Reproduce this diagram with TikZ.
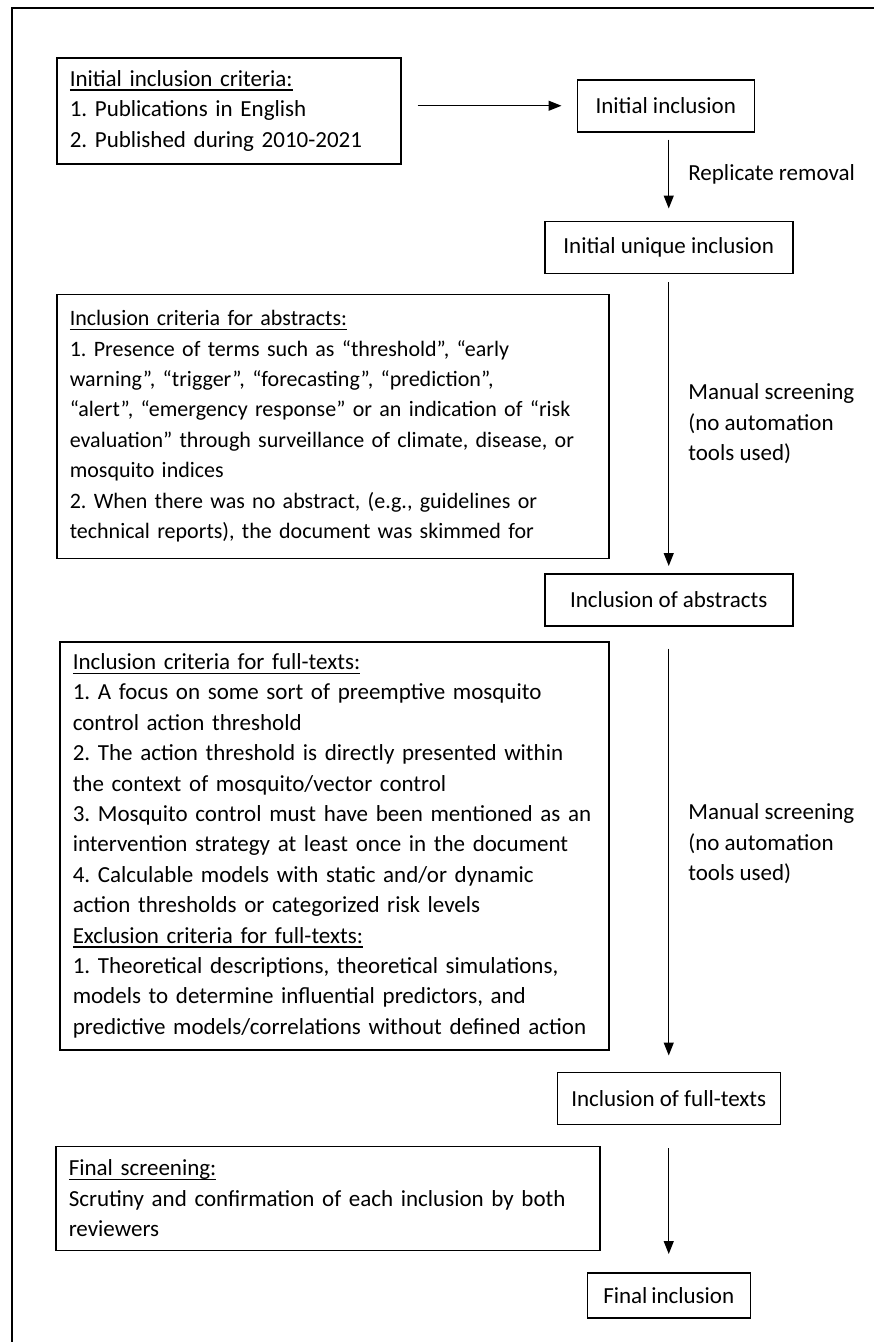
\documentclass[tikz,border=0pt]{standalone}
\usepackage{fontspec}
\setmainfont{Carlito}
\usetikzlibrary{arrows.meta, positioning}
\newcommand{\ulhead}[1]{\leavevmode\setbox0\hbox{#1}\rlap{\rule[-4.5pt]{\wd0}{1.4pt}}\box0}

\begin{document}
\frenchspacing
\begin{tikzpicture}[x=1pt, y=1pt, font=\fontsize{23}{30.4}\selectfont,
  critbox/.style={rectangle, draw, line width=1.5pt, align=left, inner xsep=13pt, inner ysep=11pt},
  stagebox/.style={rectangle, draw, line width=1.5pt, minimum height=52pt},
  flow/.style={-{Triangle[length=13pt, width=10pt]}, line width=1.2pt},
  note/.style={right, align=left, inner xsep=19pt}]
\useasboundingbox (0,0) rectangle (874,-1342);
\draw [line width=2.5pt] (12,-1342) -- (12,-8) -- (874,-8);

% criteria on the left
\node (critinit) [critbox, anchor=north west, text width=318pt, minimum height=106pt] at (56,-57)
  {\ulhead{Initial inclusion criteria:}\\1. Publications in English\\2. Published during 2010-2021};
\node (critabs) [critbox, font=\fontsize{22}{30.4}\selectfont, text width=526pt, minimum height=264pt, below=129pt of critinit.south west, anchor=north west]
  {\ulhead{Inclusion criteria for abstracts:}\\
   1. Presence of terms such as “threshold”, “early\\
   warning”, “trigger”, “forecasting”, “prediction”,\\
   “alert”, “emergency response” or an indication of “risk\\
   evaluation” through surveillance of climate, disease, or\\
   mosquito indices\\
   2. When there was no abstract, (e.g., guidelines or\\
   technical reports), the document was skimmed for};
\node (critfull) [critbox, text width=523pt, minimum height=408pt, below=82pt of critabs.south west, anchor=north west, xshift=3pt]
  {\ulhead{Inclusion criteria for full-texts:}\\
   1. A focus on some sort of preemptive mosquito\\
   control action threshold\\
   2. The action threshold is directly presented within\\
   the context of mosquito/vector control\\
   3. Mosquito control must have been mentioned as an\\
   intervention strategy at least once in the document\\
   4. Calculable models with static and/or dynamic\\
   action thresholds or categorized risk levels\\
   \ulhead{Exclusion criteria for full-texts:}\\
   1. Theoretical descriptions, theoretical simulations,\\
   models to determine influential predictors, and\\
   predictive models/correlations without defined action};
\node (critfinal) [critbox, text width=518pt, minimum height=104pt, below=95pt of critfull.south west, anchor=north west, xshift=-4pt]
  {\ulhead{Final screening:}\\
   Scrutiny and confirmation of each inclusion by both\\
   reviewers};

% stages on the right
\node (incl) [stagebox, minimum width=177pt, right=175pt of critinit, yshift=5pt] {Initial inclusion};
\node (uniq) [stagebox, minimum width=248pt, below=88pt of incl, xshift=3pt] {Initial unique inclusion};
\node (inclabs) [stagebox, minimum width=248pt, below=299pt of uniq] {Inclusion of abstracts};
\node (inclfull) [stagebox, minimum width=223pt, below=445pt of inclabs] {Inclusion of full-texts};
\node (final) [stagebox, minimum width=163pt, minimum height=45pt, below=147pt of inclfull] {Final\,inclusion};

\draw [flow] ([xshift=16pt]critinit.east |- incl.west) -- ([xshift=-15pt]incl.west);
\draw [flow] ([yshift=-7pt]incl.south -| uniq.north) -- node [note] {Replicate removal} ([yshift=12pt]uniq.north);
\draw [flow] ([yshift=-8pt]uniq.south) -- node [note] {Manual screening\\(no automation\\tools used)} ([yshift=7pt]inclabs.north);
\draw [flow] ([yshift=-22pt]inclabs.south) -- node [note, pos=0.48] {Manual screening\\(no automation\\tools used)} ([yshift=16pt]inclfull.north);
\draw [flow] ([yshift=-23pt]inclfull.south) -- ([yshift=18pt]final.north);
\end{tikzpicture}
\end{document}
